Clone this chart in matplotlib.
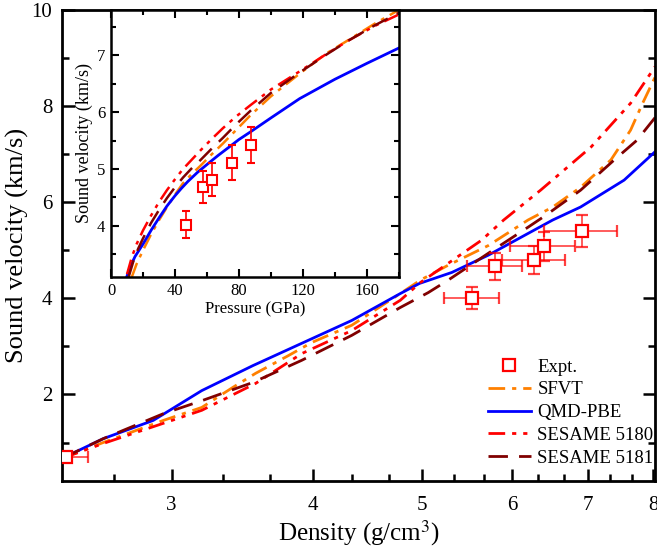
import numpy as np
import matplotlib
matplotlib.use('Agg')
from matplotlib import pyplot as plt
from matplotlib.lines import Line2D
from matplotlib.ticker import FixedLocator, FixedFormatter, NullFormatter, MultipleLocator

plt.rcParams['font.family'] = ['Liberation Serif', 'DejaVu Serif']
plt.rcParams['mathtext.fontset'] = 'stix'

# ---- main panel: sound velocity vs density ----
expt_rho = [2.42, 5.53, 5.80, 6.28, 6.40, 6.92]
expt_rho_err = [0.11, 0.31, 0.33, 0.40, 0.42, 0.51]
expt_v = [0.69, 4.01, 4.67, 4.79, 5.08, 5.40]
expt_v_err = [0.0, 0.23, 0.28, 0.29, 0.30, 0.33]

sfvt_rho = [2.40, 2.61, 2.95, 3.19, 3.40, 3.56, 3.80, 3.99, 4.33, 4.78, 4.98, 5.27, 5.72, 6.20, 6.52, 6.90, 7.34, 7.64, 7.83, 8.03]
sfvt_v = [0.67, 1.00, 1.46, 1.73, 2.15, 2.44, 2.80, 3.08, 3.44, 4.10, 4.38, 4.69, 5.10, 5.63, 5.90, 6.31, 6.88, 7.50, 8.06, 8.60]

qmd_rho = [2.40, 2.61, 2.89, 3.19, 3.54, 4.33, 4.78, 4.97, 5.31, 5.72, 6.20, 6.52, 6.90, 7.54, 8.03]
qmd_v = [0.67, 1.08, 1.46, 2.08, 2.60, 3.54, 4.10, 4.31, 4.54, 4.90, 5.35, 5.63, 5.90, 6.46, 7.05]

s5180_rho = [2.40, 2.61, 2.95, 3.19, 3.56, 3.91, 4.33, 4.78, 4.98, 5.27, 5.64, 5.90, 6.36, 7.05, 7.64, 8.03]
s5180_v = [0.67, 0.98, 1.40, 1.67, 2.23, 2.85, 3.33, 3.96, 4.33, 4.73, 5.21, 5.63, 6.25, 7.15, 8.06, 8.82]

s5181_rho = [2.40, 2.61, 2.95, 3.19, 3.54, 3.91, 4.33, 4.78, 5.06, 5.27, 5.72, 6.20, 6.43, 6.90, 7.39, 7.74, 8.03]
s5181_v = [0.67, 1.08, 1.60, 1.87, 2.25, 2.71, 3.23, 3.81, 4.12, 4.38, 4.94, 5.48, 5.73, 6.25, 6.88, 7.29, 7.76]

# ---- inset: sound velocity vs pressure ----
in_p = [47.1, 57.3, 62.9, 75.8, 87.3]
in_v = [4.02, 4.69, 4.81, 5.11, 5.42]
in_v_err = [0.24, 0.28, 0.29, 0.31, 0.32]

in_qmd_p = [9.8, 12, 15, 20, 25, 30, 35, 40, 44, 48, 54, 60, 67, 74, 80, 87, 100, 118, 140, 160, 180]
in_qmd_v = [3.10, 3.28, 3.46, 3.68, 3.92, 4.14, 4.35, 4.53, 4.66, 4.78, 4.94, 5.08, 5.24, 5.39, 5.52, 5.65, 5.90, 6.24, 6.58, 6.86, 7.13]
in_sfvt_p = [13, 16, 20, 25, 30, 35, 40, 45, 50, 56, 63, 70, 78, 87, 100, 118, 135, 149, 165, 180]
in_sfvt_v = [3.10, 3.33, 3.57, 3.85, 4.10, 4.33, 4.55, 4.75, 4.90, 5.06, 5.26, 5.45, 5.68, 5.94, 6.28, 6.68, 7.04, 7.28, 7.56, 7.80]
in_5180_p = [10, 13, 16, 20, 25, 30, 35, 40, 45, 50, 56, 63, 70, 78, 87, 100, 118, 135, 149, 165, 180]
in_5180_v = [3.15, 3.45, 3.68, 3.92, 4.18, 4.42, 4.63, 4.82, 5.00, 5.15, 5.33, 5.53, 5.72, 5.92, 6.12, 6.40, 6.72, 7.03, 7.27, 7.52, 7.72]
in_5181_p = [11, 14, 17, 20, 25, 30, 35, 40, 45, 50, 56, 63, 70, 78, 87, 100, 118, 135, 149, 165, 180]
in_5181_v = [3.10, 3.38, 3.60, 3.78, 4.05, 4.28, 4.49, 4.68, 4.85, 5.00, 5.16, 5.36, 5.55, 5.78, 6.02, 6.34, 6.70, 7.02, 7.27, 7.53, 7.75]

orange = '#FF8000'
blue = '#0000FF'
red = '#FF0000'
darkred = '#800000'
dash_dot = (0, (6, 2.5, 1.5, 2.5))
dash_dot_dot = (0, (6, 2.5, 1.5, 2.5, 1.5, 2.5))
dashed = (0, (7, 4))

fig = plt.figure(figsize=(6.57, 5.48), dpi=100)
ax = fig.add_axes([0.0944, 0.1223, 0.9026, 0.8595])

eb = ax.errorbar(expt_rho, expt_v, xerr=expt_rho_err, yerr=expt_v_err, fmt='s', ms=8, mfc='white',
                 mec=red, mew=1.6, ecolor=red, elinewidth=1.2, capsize=4, capthick=1.2, zorder=5)
for c in eb[1] + eb[2]:
    c.set_alpha(0.75)
l_sfvt, = ax.plot(sfvt_rho, sfvt_v, color=orange, lw=2, ls=dash_dot)
l_qmd, = ax.plot(qmd_rho, qmd_v, color=blue, lw=2, ls='-')
l_5180, = ax.plot(s5180_rho, s5180_v, color=red, lw=2, ls=dash_dot_dot)
l_5181, = ax.plot(s5181_rho, s5181_v, color=darkred, lw=2, ls=dashed)

ax.set_xscale('log')
ax.set_xlim(2.40, 8.03)
ax.set_ylim(0.2, 10)
ax.xaxis.set_major_locator(FixedLocator([3, 4, 5, 6, 7, 8]))
ax.xaxis.set_major_formatter(FixedFormatter(['3', '4', '5', '6', '7', '8']))
ax.xaxis.set_minor_locator(FixedLocator([2.667, 3.333, 3.667, 4.333, 4.667, 5.333, 5.667,
                                         6.333, 6.667, 7.333, 7.667]))
ax.xaxis.set_minor_formatter(NullFormatter())
ax.yaxis.set_major_locator(MultipleLocator(2))
ax.yaxis.set_minor_locator(MultipleLocator(1))
ax.tick_params(which='both', direction='in', top=False, right=True, width=1.8, labelsize=15)
ax.tick_params(which='major', length=9, pad=7)
ax.tick_params(axis='x', which='major', pad=11)
ax.tick_params(which='minor', length=5)
for s in ax.spines.values():
    s.set_linewidth(2)
ax.set_xlabel('Density (g/cm$^3$)', fontsize=18, labelpad=2)
ax.set_ylabel('Sound velocity (km/s)', fontsize=19, labelpad=2)

expt_handle = Line2D([], [], ls='none', marker='s', ms=8, mfc='white', mec=red, mew=1.6)
ax.legend([expt_handle, l_sfvt, l_qmd, l_5180, l_5181],
          ['Expt.', 'SFVT', 'QMD-PBE', 'SESAME 5180', 'SESAME 5181'],
          loc='upper left', bbox_to_anchor=(0.718, 0.26), frameon=False,
          fontsize=13.5, handlelength=2.3, handletextpad=0.35, labelspacing=0.3,
          borderaxespad=0, borderpad=0)

# inset
ins = fig.add_axes([0.169, 0.4945, 0.438, 0.4873])
ins.errorbar(in_p, in_v, yerr=in_v_err, fmt='s', ms=7, mfc='white', mec=red, mew=1.5,
             ecolor=red, elinewidth=1.2, capsize=3, capthick=1.2, zorder=5)
ins.plot(in_sfvt_p, in_sfvt_v, color=orange, lw=1.8, ls=dash_dot)
ins.plot(in_qmd_p, in_qmd_v, color=blue, lw=2, ls='-')
ins.plot(in_5180_p, in_5180_v, color=red, lw=1.8, ls=dash_dot_dot)
ins.plot(in_5181_p, in_5181_v, color=darkred, lw=1.8, ls=dashed)
ins.set_xlim(0, 180)
ins.set_ylim(3.1, 7.8)
ins.xaxis.set_major_locator(MultipleLocator(40))
ins.xaxis.set_minor_locator(MultipleLocator(20))
ins.yaxis.set_major_locator(MultipleLocator(1))
ins.yaxis.set_minor_locator(MultipleLocator(0.5))
ins.tick_params(which='both', direction='in', top=True, right=True, width=1.5, labelsize=12)
ins.tick_params(which='major', length=6, pad=4)
ins.tick_params(which='minor', length=3.5)
for s in ins.spines.values():
    s.set_linewidth(1.8)
ins.set_xlabel('Pressure (GPa)', fontsize=12, labelpad=2)
ins.set_ylabel('Sound velocity (km/s)', fontsize=13, labelpad=3)

fig.savefig('out.png', dpi=100)
